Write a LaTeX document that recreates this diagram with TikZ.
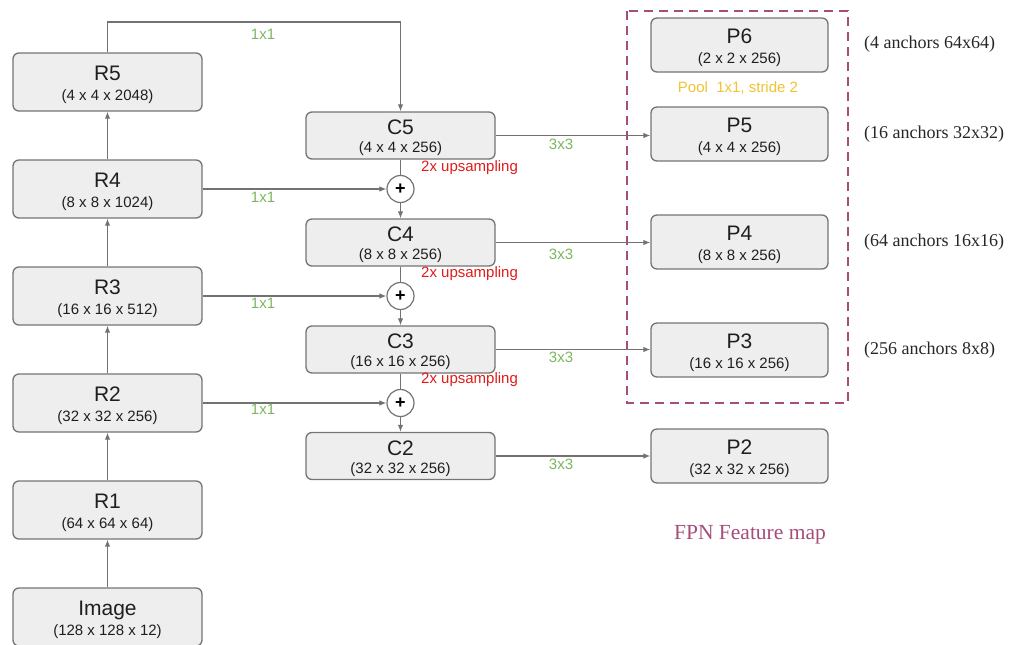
\documentclass[tikz,border=0pt]{standalone}
\usepackage{fontspec}
\setmainfont{Liberation Sans}
\newfontfamily\serifann{Liberation Serif}
\usetikzlibrary{arrows.meta}
\definecolor{boxfill}{HTML}{EEEEEE}
\definecolor{boxline}{HTML}{747474}
\definecolor{arrcol}{HTML}{727272}
\definecolor{lblgreen}{HTML}{7DB65E}
\definecolor{lblred}{HTML}{E01B1B}
\definecolor{lblyellow}{HTML}{F1C232}
\definecolor{fpnmag}{HTML}{A64D79}
\newcommand\bxtxt[2]{{\fontsize{21}{21}\selectfont\rule{0pt}{20pt}#1}\\{\fontsize{15}{15}\selectfont #2}}
\begin{document}
\begin{tikzpicture}[x=1pt,y=-1pt,
  basebox/.style={draw=boxline, fill=boxfill, rounded corners=6pt, line width=1.3pt, align=center, inner sep=0pt, text=black!88},
  rbox/.style={basebox, minimum width=189pt, minimum height=58pt, font=\fontsize{15}{20}\selectfont},
  cbox/.style={basebox, minimum width=189pt, minimum height=47pt, font=\fontsize{15}{18}\selectfont},
  pbox/.style={basebox, minimum width=177pt, minimum height=54pt, font=\fontsize{15}{20}\selectfont},
  plusnode/.style={circle, draw=boxline, fill=white, line width=1.2pt, minimum size=27pt, inner sep=0pt, font=\fontsize{18}{18}\selectfont\bfseries},
  arr/.style={draw=arrcol, line width=1.1pt, -{Latex[length=7pt,width=5.5pt]}},
  ln/.style={draw=arrcol, line width=1.1pt},
  greenlbl/.style={text=lblgreen, font=\fontsize{15}{15}\selectfont, inner sep=0pt},
  redlbl/.style={text=lblred, font=\fontsize{15}{15}\selectfont, inner sep=0pt, anchor=west},
  annlbl/.style={font=\serifann\fontsize{18}{18}\selectfont, inner sep=0pt, anchor=west, text=black!85}
]
\useasboundingbox (0,0) rectangle (1021,645);

% dashed FPN region
\draw[fpnmag, line width=2.6pt, dash pattern=on 9pt off 6pt] (627,11) rectangle (848,403);

% backbone
\node[rbox] (R5) at (107.5,82) {\bxtxt{R5}{(4 x 4 x 2048)}};
\node[rbox] (R4) at (107.5,189) {\bxtxt{R4}{(8 x 8 x 1024)}};
\node[rbox] (R3) at (107.5,296) {\bxtxt{R3}{(16 x 16 x 512)}};
\node[rbox] (R2) at (107.5,403) {\bxtxt{R2}{(32 x 32 x 256)}};
\node[rbox] (R1) at (107.5,510) {\bxtxt{R1}{(64 x 64 x 64)}};
\node[rbox] (Img) at (107.5,617) {\bxtxt{Image}{(128 x 128 x 12)}};

% top-down
\node[cbox] (C5) at (400.5,135.5) {\bxtxt{C5}{(4 x 4 x 256)}};
\node[cbox] (C4) at (400.5,242.5) {\bxtxt{C4}{(8 x 8 x 256)}};
\node[cbox] (C3) at (400.5,349.5) {\bxtxt{C3}{(16 x 16 x 256)}};
\node[cbox] (C2) at (400.5,456) {\bxtxt{C2}{(32 x 32 x 256)}};

\node[plusnode] (A4) at (400.5,189) {+};
\node[plusnode] (A3) at (400.5,296) {+};
\node[plusnode] (A2) at (400.5,403) {+};

% pyramid outputs
\node[pbox] (P6) at (739.5,45) {\bxtxt{P6}{(2 x 2 x 256)}};
\node[pbox] (P5) at (739.5,134) {\bxtxt{P5}{(4 x 4 x 256)}};
\node[pbox] (P4) at (739.5,242) {\bxtxt{P4}{(8 x 8 x 256)}};
\node[pbox] (P3) at (739.5,350) {\bxtxt{P3}{(16 x 16 x 256)}};
\node[pbox] (P2) at (739.5,456) {\bxtxt{P2}{(32 x 32 x 256)}};

% bottom-up arrows
\draw[arr] (Img.north) -- (R1.south);
\draw[arr] (R1.north) -- (R2.south);
\draw[arr] (R2.north) -- (R3.south);
\draw[arr] (R3.north) -- (R4.south);
\draw[arr] (R4.north) -- (R5.south);

% lateral connections
\coordinate (topy) at (0,22);
\draw[arr] (R5.north) |- (C5.north |- topy) -- (C5.north);
\draw[arr] (R4.east) -- (A4.west);
\draw[arr] (R3.east) -- (A3.west);
\draw[arr] (R2.east) -- (A2.west);

% upsampling path
\draw[ln] (C5.south) -- (A4.north);
\draw[arr] (A4.south) -- (C4.north);
\draw[ln] (C4.south) -- (A3.north);
\draw[arr] (A3.south) -- (C3.north);
\draw[ln] (C3.south) -- (A2.north);
\draw[arr] (A2.south) -- (C2.north);

% 3x3 convs
\draw[arr] (C5.east) -- (C5.east -| P5.west);
\draw[arr] (C4.east) -- (C4.east -| P4.west);
\draw[arr] (C3.east) -- (C3.east -| P3.west);
\draw[arr] (C2.east) -- (C2.east -| P2.west);

% labels
\node[greenlbl] (l1) at (263,34) {1x1};
\node[greenlbl] (l2) at (263,197) {1x1};
\node[greenlbl] (l3) at (263,303) {1x1};
\node[greenlbl] (l4) at (263,409) {1x1};
\node[greenlbl] (k5) at (561,144) {3x3};
\node[greenlbl] (k4) at (561,254) {3x3};
\node[greenlbl] (k3) at (561,357) {3x3};
\node[greenlbl] (k2) at (561,464) {3x3};
\node[redlbl] (u4) at (421,168) {2x upsampling};
\node[redlbl] (u3) at (421,274) {2x upsampling};
\node[redlbl] (u2) at (421,380) {2x upsampling};
\node[text=lblyellow, font=\fontsize{15}{15}\selectfont, inner sep=0pt] (pool) at (738,88) {Pool\ \ 1x1, stride 2};

\node[annlbl] (a6) at (864,44) {(4 anchors 64x64)};
\node[annlbl] (a5) at (864,134) {(16 anchors 32x32)};
\node[annlbl] (a4) at (864,242) {(64 anchors 16x16)};
\node[annlbl] (a3) at (864,350) {(256 anchors 8x8)};
\node[text=fpnmag, font=\serifann\fontsize{21.5}{21.5}\selectfont, inner sep=0pt] (fpn) at (750,535) {FPN Feature map};
\end{tikzpicture}
\end{document}
